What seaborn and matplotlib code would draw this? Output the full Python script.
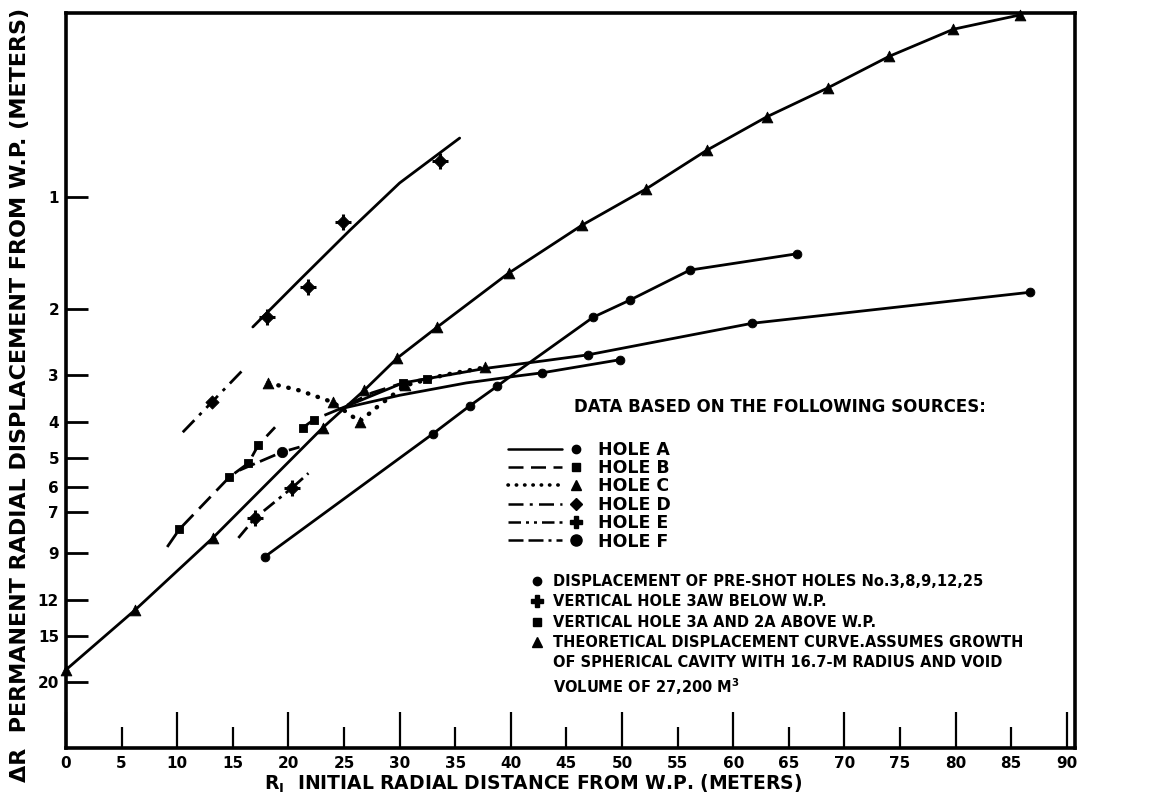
import matplotlib
matplotlib.use("Agg")
import matplotlib.pyplot as plt
from matplotlib.lines import Line2D
from matplotlib.ticker import NullLocator
import seaborn as sns

# ---- data (x = initial radial distance in m, y = axis units) ----
# theoretical displacement curve (triangles)
theo_x = [0, 6.2, 13.2, 23.1, 26.8, 29.8, 33.4, 39.8, 46.4, 52.2, 57.6, 63.0, 68.5, 74.0, 79.8, 85.8]
theo_y = [18.5, 12.8, 8.2, 4.15, 3.3, 2.7, 2.23, 1.6, 1.19, 0.95, 0.75, 0.61, 0.51, 0.42, 0.355, 0.325]

# hole A, long branch
a1_x = [24.6, 30.3, 37.7, 42.9, 46.9, 61.7, 86.7]
a1_y = [3.7, 3.15, 2.88, 2.75, 2.65, 2.18, 1.80]
a1_mx = [46.9, 61.7, 86.7]
a1_my = [2.65, 2.18, 1.80]

# hole A, short branch
a2_x = [24.6, 30.0, 36.0, 40.5, 42.8, 49.8]
a2_y = [3.7, 3.4, 3.15, 3.02, 2.96, 2.73]
a2_mx = [42.8, 49.8]
a2_my = [2.96, 2.73]

# pre-shot holes, steep curve
s_x = [17.9, 33.0, 36.3, 38.8, 40.4, 47.4, 50.7, 56.1, 65.7]
s_y = [9.2, 4.31, 3.63, 3.21, 2.96, 2.10, 1.89, 1.57, 1.42]
s_mx = [17.9, 33.0, 36.3, 38.8, 47.4, 50.7, 56.1, 65.7]
s_my = [9.2, 4.31, 3.63, 3.21, 2.10, 1.89, 1.57, 1.42]

# hole B (dashed, squares)
b_x = [9.1, 10.2, 14.7, 16.4, 17.3, 18.8]
b_y = [8.67, 7.77, 5.63, 5.17, 4.62, 4.14]
b_mx = [10.2, 14.7, 16.4, 17.3]
b_my = [7.77, 5.63, 5.17, 4.62]
b2_x = [21.3, 22.3, 24.6, 27.5, 30.3, 33.0]
b2_y = [4.15, 3.95, 3.7, 3.35, 3.15, 3.05]
b2_mx = [21.3, 22.3, 30.3, 32.5]
b2_my = [4.15, 3.95, 3.15, 3.07]

# hole C (dotted, triangles)
c_x = [18.2, 21.0, 24.0, 26.4, 28.0, 30.5, 34.0, 37.7]
c_y = [3.15, 3.3, 3.55, 4.0, 3.65, 3.2, 3.0, 2.86]
c_mx = [18.2, 24.0, 26.4, 30.5, 37.7]
c_my = [3.15, 3.55, 4.0, 3.2, 2.86]

# hole D (dash-dot, diamond)
d_x = [10.5, 13.1, 15.8]
d_y = [4.27, 3.55, 2.93]
d_mx = [13.1]
d_my = [3.55]

# hole E (dash-dot-dot, crossed diamond)
e_x = [15.5, 17.0, 20.3, 21.8]
e_y = [8.2, 7.25, 6.03, 5.5]
e_mx = [17.0, 20.3]
e_my = [7.25, 6.03]

# hole F (long dash-dot, filled circle)
f_x = [15.6, 19.4, 21.0]
f_y = [5.4, 4.83, 4.68]
f_mx = [19.4]
f_my = [4.83]

# vertical hole 3AW below W.P. (solid line, crossed diamonds)
w_x = [16.8, 21.0, 25.5, 30.0, 35.4]
w_y = [2.23, 1.67, 1.23, 0.917, 0.695]
w_mx = [18.1, 21.8, 24.9, 33.6]
w_my = [2.10, 1.74, 1.17, 0.80]

x_ticks = list(range(0, 91, 10))
x_minor = list(range(5, 90, 10))
y_ticks = [1, 2, 3, 4, 5, 6, 7, 9, 12, 15, 20]

sns.set_style("white")
plt.rcParams['font.family'] = ['DejaVu Sans']
plt.rcParams['font.weight'] = 'bold'
for key in ['text.color', 'axes.labelcolor', 'xtick.color', 'ytick.color']:
    plt.rcParams[key] = 'black'

fig = plt.figure(figsize=(11.58, 8.07), dpi=100)
ax = fig.add_axes([0.057, 0.073, 0.871, 0.911])
ax.set_yscale('log')

SOLID = '-'
DASHED = (0, (6, 3))
DOTTED = (0, (0.1, 2.2))
DASHDOT = (0, (6, 2.5, 1.2, 2.5))
DASHDOTDOT = (0, (5, 2, 1.2, 2, 1.2, 2))
LONGDASHDOT = (0, (6, 2, 6, 2, 1.2, 2))


def draw_curve(x, y, style, lw=2.0, cap='butt'):
    sns.lineplot(x=x, y=y, color='black', linestyle=style, linewidth=lw,
                 sort=False, estimator=None, ax=ax,
                 dash_capstyle=cap, solid_capstyle='round')


def draw_marks(x, y, marker, size):
    sns.scatterplot(x=x, y=y, marker=marker, s=size, color='black',
                    edgecolor='black', linewidth=0.6, ax=ax, zorder=3, clip_on=False)


def draw_crossed(x, y):
    draw_marks(x, y, 'D', 45)
    sns.scatterplot(x=x, y=y, marker='+', s=120, color='black', linewidth=2.2,
                    ax=ax, zorder=3)


draw_curve(theo_x, theo_y, SOLID)
draw_marks(theo_x, theo_y, '^', 60)

draw_curve(a1_x, a1_y, SOLID)
draw_marks(a1_mx, a1_my, 'o', 40)
draw_curve(a2_x, a2_y, SOLID)
draw_marks(a2_mx, a2_my, 'o', 40)
draw_curve(s_x, s_y, SOLID)
draw_marks(s_mx, s_my, 'o', 40)

draw_curve(b_x, b_y, DASHED)
draw_marks(b_mx, b_my, 's', 40)
draw_curve(b2_x, b2_y, DASHED)
draw_marks(b2_mx, b2_my, 's', 40)

draw_curve(c_x, c_y, DOTTED, lw=3.2, cap='round')
draw_marks(c_mx, c_my, '^', 60)

draw_curve(d_x, d_y, DASHDOT)
draw_marks(d_mx, d_my, 'D', 45)

draw_curve(e_x, e_y, DASHDOTDOT)
draw_crossed(e_mx, e_my)

draw_curve(f_x, f_y, LONGDASHDOT)
draw_marks(f_mx, f_my, 'o', 55)

draw_curve(w_x, w_y, SOLID)
draw_crossed(w_mx, w_my)

# axes
ax.set_xlim(0, 90.7)
ax.set_ylim(30, 0.321)
ax.set_xticks(x_ticks)
ax.set_xticklabels([str(v) for v in x_ticks])
ax.set_xticks(x_minor, minor=True)
ax.set_xticklabels([str(v) for v in x_minor], minor=True)
ax.set_yticks(y_ticks)
ax.set_yticklabels([str(v) for v in y_ticks])
ax.yaxis.set_minor_locator(NullLocator())
ax.tick_params(axis='x', which='major', direction='in', length=26, width=1.6,
               labelsize=11, pad=6, bottom=True, top=False)
ax.tick_params(axis='x', which='minor', direction='in', length=15, width=1.6,
               labelsize=11, pad=6, bottom=True, top=False)
ax.tick_params(axis='y', which='major', direction='in', length=16, width=2,
               labelsize=11, pad=5, left=True, right=False)
for side in ['left', 'right', 'top', 'bottom']:
    ax.spines[side].set_visible(True)
    ax.spines[side].set_linewidth(2.6)
    ax.spines[side].set_color('black')

ax.set_xlabel(r"R$_\mathbf{I}$  INITIAL RADIAL DISTANCE FROM W.P. (METERS)",
              fontsize=13.5, fontweight='bold')
ax.xaxis.set_label_coords(0.463, -0.034)
ax.set_ylabel("ΔR  PERMANENT RADIAL DISPLACEMENT FROM W.P. (METERS)",
              fontsize=16, fontweight='bold')
ax.yaxis.set_label_coords(-0.036, 0.48)

# sources legend
ax.text(0.504, 0.464, "DATA BASED ON THE FOLLOWING SOURCES:", transform=ax.transAxes,
        fontsize=12, fontweight='bold', va='center', ha='left')

hole_styles = [SOLID, DASHED, DOTTED, DASHDOT, DASHDOTDOT, LONGDASHDOT]
hole_marks = ['o', 's', '^', 'D', 'P', 'o']
hole_sizes = [6, 6, 7.5, 6.5, 8, 8]
hole_labels = ['HOLE A', 'HOLE B', 'HOLE C', 'HOLE D', 'HOLE E', 'HOLE F']

line_handles = [Line2D([], [], color='black', linestyle=st,
                       linewidth=2.6 if st == DOTTED else 1.8,
                       dash_capstyle='round' if st == DOTTED else 'butt')
                for st in hole_styles]
leg_lines = ax.legend(line_handles, [' '] * 6, loc='upper left',
                      bbox_to_anchor=(0.438, 0.418), frameon=False,
                      fontsize=12.5, handlelength=3.1, handletextpad=0.2,
                      labelspacing=0.02, borderpad=0, borderaxespad=0)
ax.add_artist(leg_lines)

mark_handles = [Line2D([], [], color='black', linestyle='none', marker=m, markersize=sz)
                for m, sz in zip(hole_marks, hole_sizes)]
leg_marks = ax.legend(mark_handles, hole_labels, loc='upper left',
                      bbox_to_anchor=(0.4968, 0.418), frameon=False,
                      fontsize=12.5, handlelength=1.0, handletextpad=0.76,
                      labelspacing=0.02, borderpad=0, borderaxespad=0)
ax.add_artist(leg_marks)

key_marks = ['o', 'P', 's', '^', None, None]
key_sizes = [6, 8, 6, 7.5, 0, 0]
key_labels = ["DISPLACEMENT OF PRE-SHOT HOLES No.3,8,9,12,25",
              "VERTICAL HOLE 3AW BELOW W.P.",
              "VERTICAL HOLE 3A AND 2A ABOVE W.P.",
              "THEORETICAL DISPLACEMENT CURVE.ASSUMES GROWTH",
              "OF SPHERICAL CAVITY WITH 16.7-M RADIUS AND VOID",
              r"VOLUME OF 27,200 M$^\mathbf{3}$"]
key_handles = [Line2D([], [], color='black', linestyle='none',
                      marker=m if m else '', markersize=sz)
               for m, sz in zip(key_marks, key_sizes)]
leg_key = ax.legend(key_handles, key_labels, loc='upper left',
                    bbox_to_anchor=(0.461, 0.237), frameon=False,
                    fontsize=10.5, handlelength=0.8, handletextpad=0.69,
                    labelspacing=0.37, borderpad=0, borderaxespad=0)

fig.savefig('out.png', dpi=100)
